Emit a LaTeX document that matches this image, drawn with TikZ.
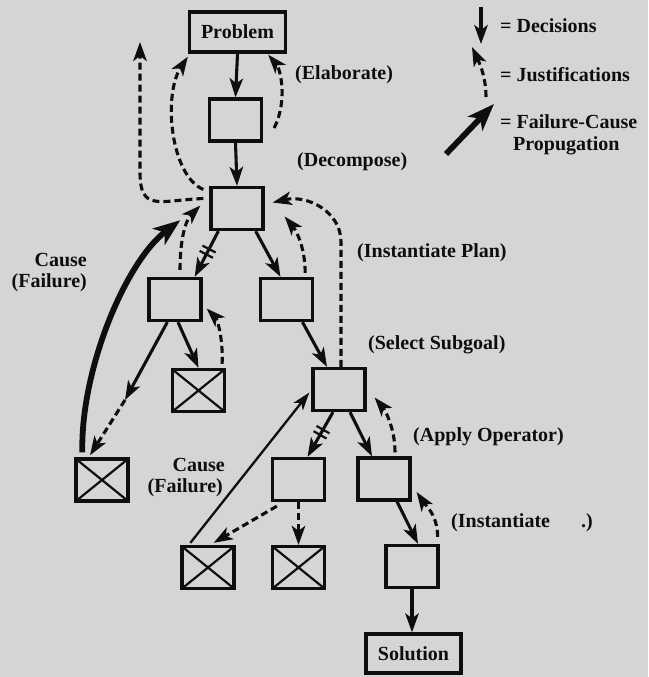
\documentclass[tikz,border=0pt]{standalone}
\usepackage{fontspec}
\setmainfont{Liberation Serif}
\usetikzlibrary{calc,arrows.meta,decorations.markings}
\definecolor{paper}{RGB}{213,213,211}
\definecolor{ink}{RGB}{14,14,14}
\begin{document}
\begin{tikzpicture}[x=1pt,y=-1pt,
  box/.style={draw=ink,line width=3.3pt,minimum width=52pt,minimum height=42pt,inner sep=0pt},
  xbox/.style={box,path picture={\draw[ink,line width=2.2pt]
     (path picture bounding box.north west)--(path picture bounding box.south east)
     (path picture bounding box.north east)--(path picture bounding box.south west);}},
  lbl/.style={font=\bfseries\fontsize{20}{22}\selectfont,text=ink,inner sep=0pt},
  dec/.style={draw=ink,line width=3.1pt,-{Stealth[length=19pt,width=13.5pt,inset=5pt]}},
  just/.style={dec,dash pattern=on 7pt off 4pt},
  fail/.style={draw=ink,line width=5.8pt,-{Stealth[length=27pt,width=20pt,inset=7pt]}},
  thinarr/.style={draw=ink,line width=2.3pt,-{Stealth[length=18pt,width=12pt,inset=5pt]}},
  hatch/.style={postaction={decorate},decoration={markings,mark=at position #1 with
     {\draw[ink,line width=2.2pt,-,solid] (-3pt,-7.5pt)--(-3pt,7.5pt) (3pt,-7.5pt)--(3pt,7.5pt);}}}
]
\fill[paper] (0,0) rectangle (648,677);
\useasboundingbox (0,0) rectangle (648,677);

% boxes
\node[box,lbl,minimum width=96pt,minimum height=40pt] (P) at (237.5,32) {Problem};
\node[box] (B1) at (235.5,120) {};
\node[box] (B2) at (237,208.5) {};
\node[box] (L1) at (175,299.5) {};
\node[box] (R1) at (286.5,299.5) {};
\node[xbox] (LX) at (198.5,390.5) {};
\node[box] (S) at (339,389.5) {};
\node[xbox] (FX) at (102,480) {};
\node[box] (M1) at (298.5,479.5) {};
\node[box] (M2) at (384,479) {};
\node[xbox] (BX1) at (208,567.5) {};
\node[xbox] (BX2) at (298.5,567.5) {};
\node[box] (I) at (412,566.5) {};
\node[box,lbl,minimum width=95pt,minimum height=39pt] (Sol) at (413.5,653.5) {Solution};

% labels
\node[lbl,anchor=west] (lelab) at (295,75) {(Elaborate)};
\node[lbl,anchor=west] (ldec) at (297,162) {(Decompose)};
\node[lbl,anchor=east] (lc1) at (87,260) {Cause};
\node[lbl,anchor=east] (lf1) at (87,283) {(Failure)};
\node[lbl,anchor=west] (lip) at (357,253) {(Instantiate Plan)};
\node[lbl,anchor=west] (lss) at (368,345) {(Select Subgoal)};
\node[lbl,anchor=west] (lao) at (413,437) {(Apply Operator)};
\node[lbl,anchor=east] (lc2) at (225,465) {Cause};
\node[lbl,anchor=east] (lf2) at (223,488) {(Failure)};
\node[lbl,anchor=west] (lin) at (451,523) {(Instantiate};
\node[lbl,anchor=west] (lin2) at (581,523) {.)};

% legend
\coordinate (d1) at (481,7);
\coordinate (d2) at (481,44);
\draw[dec] (d1) -- (d2);
\node[lbl,anchor=west] (tdec) at (500,26) {= Decisions};
\coordinate (j1) at (486,97);
\coordinate (j2) at (472,47);
\draw[just] (j1) .. controls +(0,-22) and +(6,13) .. (j2);
\node[lbl,anchor=west] (tjus) at (500,75) {= Justifications};
\coordinate (f1) at (446,154);
\coordinate (f2) at (494,104);
\draw[fail] (f1) -- (f2);
\node[lbl,anchor=west] (tfc) at (500,122) {= Failure-Cause};
\node[lbl,anchor=west] (tpr) at (513,146) {Propugation};

% top chain
\draw[dec] (P.south) -- (B1.north);
\draw[just] ($(B1.east)+(11,8)$) .. controls +(14,-28) and +(12,14) .. ($(P.south east)+(-19,1)$);
\draw[dec] (B1.south) -- (B2.north);
\draw[just] ($(B2.west)+(-6,-19)$) .. controls +(-33,-14) and +(-25,38) .. ($(P.south west)+(0,3)$);
\coordinate (jtop) at (140,42);
\draw[just] ($(B2.west)+(-6,-10)$) .. controls +(-45,2) and +(0,40) .. ($(jtop)+(0,130)$) -- (jtop);

% level 2
\draw[dec,hatch=0.45] ($(B2.south west)+(9,0)$) -- ($(L1.north east)+(-8,0)$);
\draw[just] ($(L1.north)+(5,-7)$) .. controls +(0,-30) and +(-15,15) .. ($(B2.west)+(-9,-3)$);
\draw[fail] ($(FX.north west)+(8,-5)$) .. controls +(-2,-82) and +(-55,42) .. ($(B2.south west)+(-29,-11)$);
\draw[dec] ($(B2.south east)+(-9,0)$) -- ($(R1.north)+(-6,0)$);
\draw[just] ($(R1.north east)+(-9,-4)$) .. controls +(0,-28) and +(10,12) .. ($(B2.east)+(20,8)$);
\draw[just] ($(S.north)+(2,0)$) -- ++(0,-125) .. controls +(0,-30) and +(35,-8) .. ($(B2.east)+(8,-6)$);

% level 3
\coordinate (lmid) at (125,400);
\draw[dec] ($(L1.south west)+(20,0)$) -- (lmid);
\draw[just] (lmid) -- ($(FX.north)+(-12,-2)$);
\draw[dec] ($(L1.south)+(3,0)$) -- (LX.north);
\draw[just] ($(LX.north east)+(-4,-4)$) .. controls +(1,-28) and +(10,10) .. ($(L1.east)+(4,9)$);
\draw[dec] ($(R1.south)+(16,0)$) -- ($(S.north)+(-12,0)$);

% level 4
\draw[dec,hatch=0.45] ($(S.south)+(-6,0)$) -- ($(M1.north)+(9,0)$);
\draw[dec] ($(S.south)+(11,0)$) -- ($(M2.north)+(-12,0)$);
\draw[just] ($(M2.north)+(11,-4)$) .. controls +(0,-25) and +(10,12) .. ($(S.east)+(8,8)$);
\draw[thinarr] ($(BX1.north west)+(10,-2)$) -- ($(S.west)+(-2,3)$);

% level 5
\draw[just] ($(M1.south west)+(6,4)$) -- ($(BX1.north east)+(-22,-2)$);
\draw[just] (M1.south) -- (BX2.north);
\draw[dec] ($(M2.south)+(13,0)$) -- ($(I.north)+(6,0)$);
\draw[just] ($(I.north east)+(-2,-7)$) .. controls +(0,-22) and +(8,12) .. ($(M2.east)+(5,13)$);
\draw[dec] (I.south) -- (I.south |- Sol.north);
\end{tikzpicture}
\end{document}
